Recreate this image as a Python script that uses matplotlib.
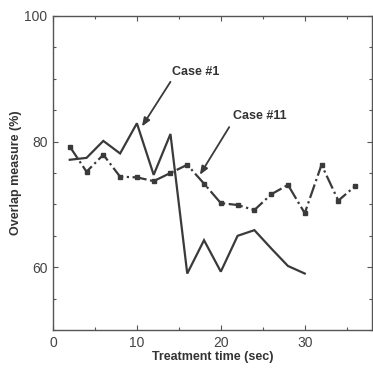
import matplotlib
matplotlib.use('Agg')
import matplotlib.pyplot as plt
import numpy as np

plt.rcParams['font.family'] = ['Liberation Sans', 'DejaVu Sans']

# ── Data ──
t_case1 = [2, 4, 6, 8, 10, 12, 14, 16, 18, 20, 22, 24, 26, 28, 30]
case1 = [77.1, 77.4, 80.1, 78.1, 82.9, 74.7, 81.2, 59.0, 64.3, 59.3, 65.0, 65.9, 63.0, 60.2, 59.0]

t_case11 = [2, 4, 6, 8, 10, 12, 14, 16, 18, 20, 22, 24, 26, 28, 30, 32, 34, 36]
case11 = [79.2, 75.2, 77.9, 74.4, 74.3, 73.7, 75.0, 76.3, 73.3, 70.2, 69.9, 69.1,
          71.6, 73.1, 68.6, 76.3, 70.6, 72.9]

x_ticks = [0, 10, 20, 30]
y_ticks = [60, 80, 100]

# ── Plot ──
fig = plt.figure(figsize=(3.73, 3.68), dpi=100)
ax = fig.add_axes([0.142, 0.103, 0.855, 0.854])

LINE_C = '#3a3a3a'
ax.plot(t_case1, case1, color=LINE_C, lw=1.6, solid_joinstyle='miter')
ax.plot(t_case11, case11, color=LINE_C, lw=1.6, linestyle='-.',
        marker='s', markersize=3.5)

ax.set_xlim(0, 38)
ax.set_ylim(50, 100)
ax.set_xticks(x_ticks)
ax.set_xticks(np.arange(0, 39, 5), minor=True)
ax.set_yticks(y_ticks)
ax.set_yticks(np.arange(50, 101, 5), minor=True)
ax.tick_params(which='both', direction='in', top=True, right=True,
               width=0.8, color='#555555')
ax.tick_params(which='major', length=3.5, labelsize=10, labelcolor='#444444', pad=4)
ax.tick_params(which='minor', length=2.5)
for s in ax.spines.values():
    s.set_color('#555555')
    s.set_linewidth(1.0)

ax.set_xlabel('Treatment time (sec)', fontsize=9, fontweight='bold',
              color='#333333', labelpad=1)
ax.set_ylabel('Overlap measure (%)', fontsize=9, fontweight='bold',
              color='#333333', labelpad=2)

arrow = dict(arrowstyle='-|>,head_length=0.5,head_width=0.2',
             color=LINE_C, lw=1.3, shrinkA=0, shrinkB=0)
ax.annotate('', xy=(10.6, 82.4), xytext=(14.0, 89.5), arrowprops=arrow)
ax.annotate('', xy=(17.5, 74.7), xytext=(21.0, 82.3), arrowprops=arrow)
ax.text(14.2, 91.1, 'Case #1', fontsize=9, fontweight='bold',
        color='#333333', ha='left', va='center')
ax.text(21.4, 84.0, 'Case #11', fontsize=9, fontweight='bold',
        color='#333333', ha='left', va='center')

fig.savefig('out.png', dpi=100, facecolor='white')
